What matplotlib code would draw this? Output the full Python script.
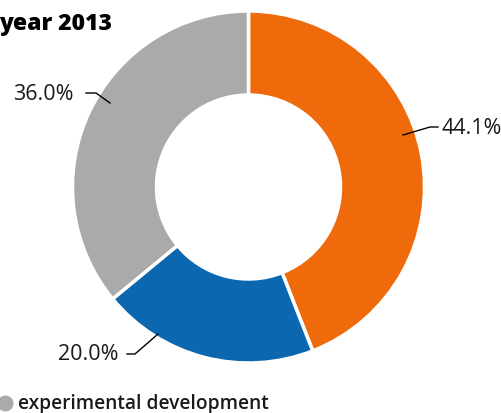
import matplotlib.pyplot as plt

# ================= DATA =================

categories = ["basic research", "applied research", "experimental development"]
shares = [44.1, 20.0, 36.0]
colors = ["#EE6A0A", "#0A67B0", "#AAAAAB"]
labels = ["44.1%", "20.0%", "36.0%"]
title = "year 2013"

plt.rcParams['font.family'] = ['Open Sans', 'DejaVu Sans']

# ================= FIGURE =================

fig = plt.figure(figsize=(5.02, 4.14), dpi=100)
ax = fig.add_axes([0, 0, 1, 1])

cx, cy = 248.5, 414 - 188
r_out, r_in = 176, 92

ax.pie(
    shares,
    colors=colors,
    startangle=90,
    counterclock=False,
    center=(cx, cy),
    radius=r_out,
    wedgeprops=dict(width=r_out - r_in, edgecolor="white", linewidth=2.5),
    frame=True,
)
ax.set_xlim(0, 502)
ax.set_ylim(0, 414)
ax.set_aspect('equal')
ax.axis('off')

# ================= LABELS WITH LEADER LINES =================

label_specs = [
    (442, 414 - 129, "left", [(403, 414 - 136), (430, 414 - 128), (438, 414 - 128)]),
    (118, 414 - 355, "right", [(158, 414 - 335), (135, 414 - 355), (127, 414 - 355)]),
    (74, 414 - 94, "right", [(110, 414 - 104), (96, 414 - 94), (86, 414 - 94)]),
]

for text, (tx, ty, ha, pts) in zip(labels, label_specs):
    xs = [p[0] for p in pts]
    ys = [p[1] for p in pts]
    ax.plot(xs, ys, color="black", linewidth=1)
    ax.text(tx, ty, text, ha=ha, va="center", fontsize=15.5, color="#1a1a1a")

# ================= TITLE / LEGEND =================

fig.text(-1 / 502, 1 - 24 / 414, title, ha="left", va="center",
         fontsize=16.5, fontweight="heavy", color="black")

ax.scatter([5], [414 - 404], s=110, color=colors[2], clip_on=False)
fig.text(18 / 502, 1 - 404 / 414, categories[2], ha="left", va="center",
         fontsize=13.8, fontweight="semibold", color="#1a1a1a")

fig.savefig("out.png", dpi=100)
